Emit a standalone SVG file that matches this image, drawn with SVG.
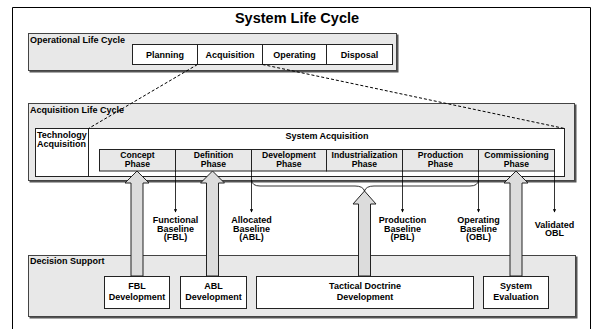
<svg xmlns="http://www.w3.org/2000/svg" width="592" height="329" viewBox="0 0 592 329">
  <style>
    text { font-family: "Liberation Sans", Arial, sans-serif; font-weight: bold; font-size: 9px; fill: #000; }
    .title { font-size: 14.5px; }
    .c { text-anchor: middle; }
    .ph { font-size: 8.6px; }
    .panel { fill: #e8e8e8; stroke: #444; stroke-width: 1; }
    .shadow { fill: #555; }
    .white { fill: #fff; stroke: #222; stroke-width: 1; }
    .phase { fill: #e8e8e8; stroke: #222; stroke-width: 1; }
    .block { fill: #dcdcdc; stroke: #222; stroke-width: 1; }
    .dash { fill: none; stroke: #000; stroke-width: 1; stroke-dasharray: 3 2; }
    .thin { fill: none; stroke: #000; stroke-width: 0.8; }
  </style>
  <defs>
    <marker id="tip" viewBox="0 0 6 6" refX="5" refY="3" markerWidth="4" markerHeight="4" orient="auto">
      <path d="M0,0 L6,3 L0,6 z" fill="#000"/>
    </marker>
  </defs>

  <rect width="592" height="329" fill="#fff"/>
  <!-- outer frame -->
  <path d="M12.5,329 V7.5 H590.5 V329" fill="none" stroke="#000" stroke-width="1"/>
  <text class="title c" x="297" y="23">System Life Cycle</text>

  <!-- Operational life cycle -->
  <g id="operational">
    <rect class="shadow" x="29.5" y="34.5" width="369" height="38"/>
    <rect class="panel" x="28.5" y="33.5" width="368" height="37"/>
    <text x="30" y="43">Operational Life Cycle</text>
  </g>
  <g id="planning">
    <rect class="white" x="132.5" y="44.5" width="65" height="20"/>
    <text class="c" x="165" y="57.5">Planning</text>
  </g>
  <g id="acquisition">
    <rect class="white" x="197.5" y="44.5" width="65" height="20"/>
    <text class="c" x="230" y="57.5">Acquisition</text>
  </g>
  <g id="operating">
    <rect class="white" x="262.5" y="44.5" width="64" height="20"/>
    <text class="c" x="294.5" y="57.5">Operating</text>
  </g>
  <g id="disposal">
    <rect class="white" x="326.5" y="44.5" width="66" height="20"/>
    <text class="c" x="359.5" y="57.5">Disposal</text>
  </g>

  <!-- Acquisition life cycle -->
  <g id="acquisition-life-cycle">
    <rect class="shadow" x="29.5" y="104.5" width="547" height="78"/>
    <rect class="panel" x="28.5" y="103.5" width="546" height="77"/>
    <text x="30" y="113">Acquisition Life Cycle</text>
  </g>
  <g id="technology-acquisition">
    <rect class="white" x="35.5" y="128.5" width="53" height="48"/>
    <text x="37" y="138">Technology</text>
    <text x="37" y="147">Acquisition</text>
  </g>
  <g id="system-acquisition">
    <rect class="white" x="88.5" y="128.5" width="476" height="48"/>
    <text class="c" x="327" y="138.5">System Acquisition</text>
  </g>

  <!-- phases -->
  <g id="concept-phase">
    <rect class="phase" x="99.5" y="149.5" width="76" height="21.5"/>
    <text class="c ph" x="137.5" y="158">Concept</text>
    <text class="c ph" x="137.5" y="167">Phase</text>
  </g>
  <g id="definition-phase">
    <rect class="phase" x="175.5" y="149.5" width="76" height="21.5"/>
    <text class="c ph" x="213.5" y="158">Definition</text>
    <text class="c ph" x="213.5" y="167">Phase</text>
  </g>
  <g id="development-phase">
    <rect class="phase" x="251.5" y="149.5" width="75" height="21.5"/>
    <text class="c ph" x="289" y="158">Development</text>
    <text class="c ph" x="289" y="167">Phase</text>
  </g>
  <g id="industrialization-phase">
    <rect class="phase" x="326.5" y="149.5" width="76" height="21.5"/>
    <text class="c ph" x="364.5" y="158">Industrialization</text>
    <text class="c ph" x="364.5" y="167">Phase</text>
  </g>
  <g id="production-phase">
    <rect class="phase" x="402.5" y="149.5" width="76" height="21.5"/>
    <text class="c ph" x="440.5" y="158">Production</text>
    <text class="c ph" x="440.5" y="167">Phase</text>
  </g>
  <g id="commissioning-phase">
    <rect class="phase" x="478.5" y="149.5" width="76" height="21.5"/>
    <text class="c ph" x="516.5" y="158">Commissioning</text>
    <text class="c ph" x="516.5" y="167">Phase</text>
  </g>

  <!-- Decision support -->
  <g id="decision-support">
    <rect class="shadow" x="29.5" y="256.5" width="548" height="62"/>
    <rect class="panel" x="28.5" y="255.5" width="547" height="61"/>
    <text x="30" y="264">Decision Support</text>
  </g>
  <g id="fbl-development">
    <rect class="white" x="104.5" y="276.5" width="65" height="32"/>
    <text class="c" x="137" y="289">FBL</text>
    <text class="c" x="137" y="299.5">Development</text>
  </g>
  <g id="abl-development">
    <rect class="white" x="180.5" y="276.5" width="66" height="32"/>
    <text class="c" x="213.5" y="289">ABL</text>
    <text class="c" x="213.5" y="299.5">Development</text>
  </g>
  <g id="tactical-doctrine-development">
    <rect class="white" x="256.5" y="276.5" width="217" height="32"/>
    <text class="c" x="365" y="289">Tactical Doctrine</text>
    <text class="c" x="365" y="299.5">Development</text>
  </g>
  <g id="system-evaluation">
    <rect class="white" x="483.5" y="276.5" width="65" height="32"/>
    <text class="c" x="516" y="289">System</text>
    <text class="c" x="516" y="299.5">Evaluation</text>
  </g>

  <!-- baseline labels -->
  <g id="fbl">
    <text class="c" x="175.5" y="223">Functional</text>
    <text class="c" x="175.5" y="231.5">Baseline</text>
    <text class="c" x="175.5" y="240">(FBL)</text>
  </g>
  <g id="abl">
    <text class="c" x="251.5" y="223">Allocated</text>
    <text class="c" x="251.5" y="231.5">Baseline</text>
    <text class="c" x="251.5" y="240">(ABL)</text>
  </g>
  <g id="pbl">
    <text class="c" x="402.5" y="223">Production</text>
    <text class="c" x="402.5" y="231.5">Baseline</text>
    <text class="c" x="402.5" y="240">(PBL)</text>
  </g>
  <g id="obl">
    <text class="c" x="478.5" y="223">Operating</text>
    <text class="c" x="478.5" y="231.5">Baseline</text>
    <text class="c" x="478.5" y="240">(OBL)</text>
  </g>
  <g id="validated-obl">
    <text class="c" x="554.5" y="227.5">Validated</text>
    <text class="c" x="554.5" y="236">OBL</text>
  </g>

  <!-- connectors -->
  <g id="connectors">
    <line class="dash" x1="197.5" y1="64.5" x2="88.5" y2="128.5"/>
    <line class="dash" x1="262.5" y1="64.5" x2="564.5" y2="128.5"/>

    <line class="thin" x1="175.5" y1="171" x2="175.5" y2="212" marker-end="url(#tip)"/>
    <line class="thin" x1="251.5" y1="171" x2="251.5" y2="212" marker-end="url(#tip)"/>
    <line class="thin" x1="402.5" y1="171" x2="402.5" y2="212" marker-end="url(#tip)"/>
    <line class="thin" x1="478.5" y1="171" x2="478.5" y2="212" marker-end="url(#tip)"/>
    <line class="thin" x1="554.5" y1="171" x2="554.5" y2="212" marker-end="url(#tip)"/>

    <path class="thin" d="M251.5,180 Q252,186 260,186 L355,186 Q363,186 364.5,191 Q366,186 374,186 L470,186 Q478,186 478.5,180"/>

    <polygon class="block" points="137,171 149,183 143,183 143,276 131,276 131,183 125,183"/>
    <polygon class="block" points="212.5,171 224.5,183 218.5,183 218.5,276 206.5,276 206.5,183 200.5,183"/>
    <polygon class="block" points="364.5,191 376,204 370.5,204 370.5,276 358.5,276 358.5,204 353,204"/>
    <polygon class="block" points="516,171 528,183 522,183 522,276 510,276 510,183 504,183"/>
  </g>
</svg>
